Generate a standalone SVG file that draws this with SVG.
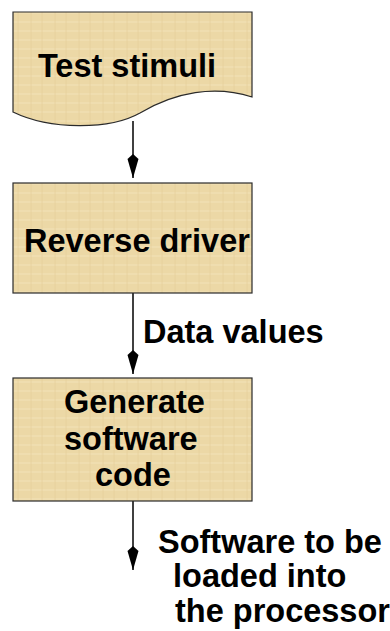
<svg xmlns="http://www.w3.org/2000/svg" width="390" height="631" viewBox="0 0 390 631">
  <style>
    .node { fill: url(#parch); stroke: #2b2b2b; stroke-width: 1.2; }
    .lbl { font-family: "Liberation Sans", Arial, sans-serif; font-weight: bold; font-size: 32.5px; fill: #000; }
    .conn { stroke: #000; stroke-width: 1.5; fill: none; marker-end: url(#arr); }
  </style>
  <defs>
    <pattern id="parch" width="24" height="18" patternUnits="userSpaceOnUse">
      <rect width="24" height="18" fill="#ECD8A6"/>
      <path d="M0,4 H24 M0,13 H24" stroke="#F2E2B8" stroke-width="1.5" opacity="0.7"/>
      <path d="M7,0 V18 M18,0 V18" stroke="#E2CC94" stroke-width="1" opacity="0.6"/>
    </pattern>
    <marker id="arr" viewBox="0 0 24 12" refX="24" refY="6" markerWidth="24" markerHeight="12" markerUnits="userSpaceOnUse" orient="auto">
      <path d="M0,6 L5,0.5 L24,6 L5,11.5 Z" fill="#000"/>
    </marker>
  </defs>

  <g id="connectors">
    <line class="conn" x1="133" y1="121" x2="133" y2="178"/>
    <line class="conn" x1="133" y1="293" x2="133" y2="374"/>
    <line class="conn" x1="133" y1="501" x2="133" y2="570"/>
  </g>

  <g id="test-stimuli">
    <path class="node" d="M13,12 H252 V97 C215,85 175,92 140,113 C110,130 50,130 13,112 Z"/>
    <text class="lbl" x="127" y="77" text-anchor="middle">Test stimuli</text>
  </g>

  <g id="reverse-driver">
    <rect class="node" x="13" y="183" width="239" height="110"/>
    <text class="lbl" x="24" y="252">Reverse driver</text>
  </g>

  <g id="data-values-label">
    <text class="lbl" x="143" y="343">Data values</text>
  </g>

  <g id="generate-software-code">
    <rect class="node" x="13" y="378" width="239" height="123"/>
    <text class="lbl" x="64" y="413">Generate</text>
    <text class="lbl" x="64" y="450">software</text>
    <text class="lbl" x="95" y="486">code</text>
  </g>

  <g id="output-label">
    <text class="lbl" x="158" y="553">Software to be</text>
    <text class="lbl" x="173" y="587">loaded into</text>
    <text class="lbl" x="175" y="622">the processor</text>
  </g>
</svg>
